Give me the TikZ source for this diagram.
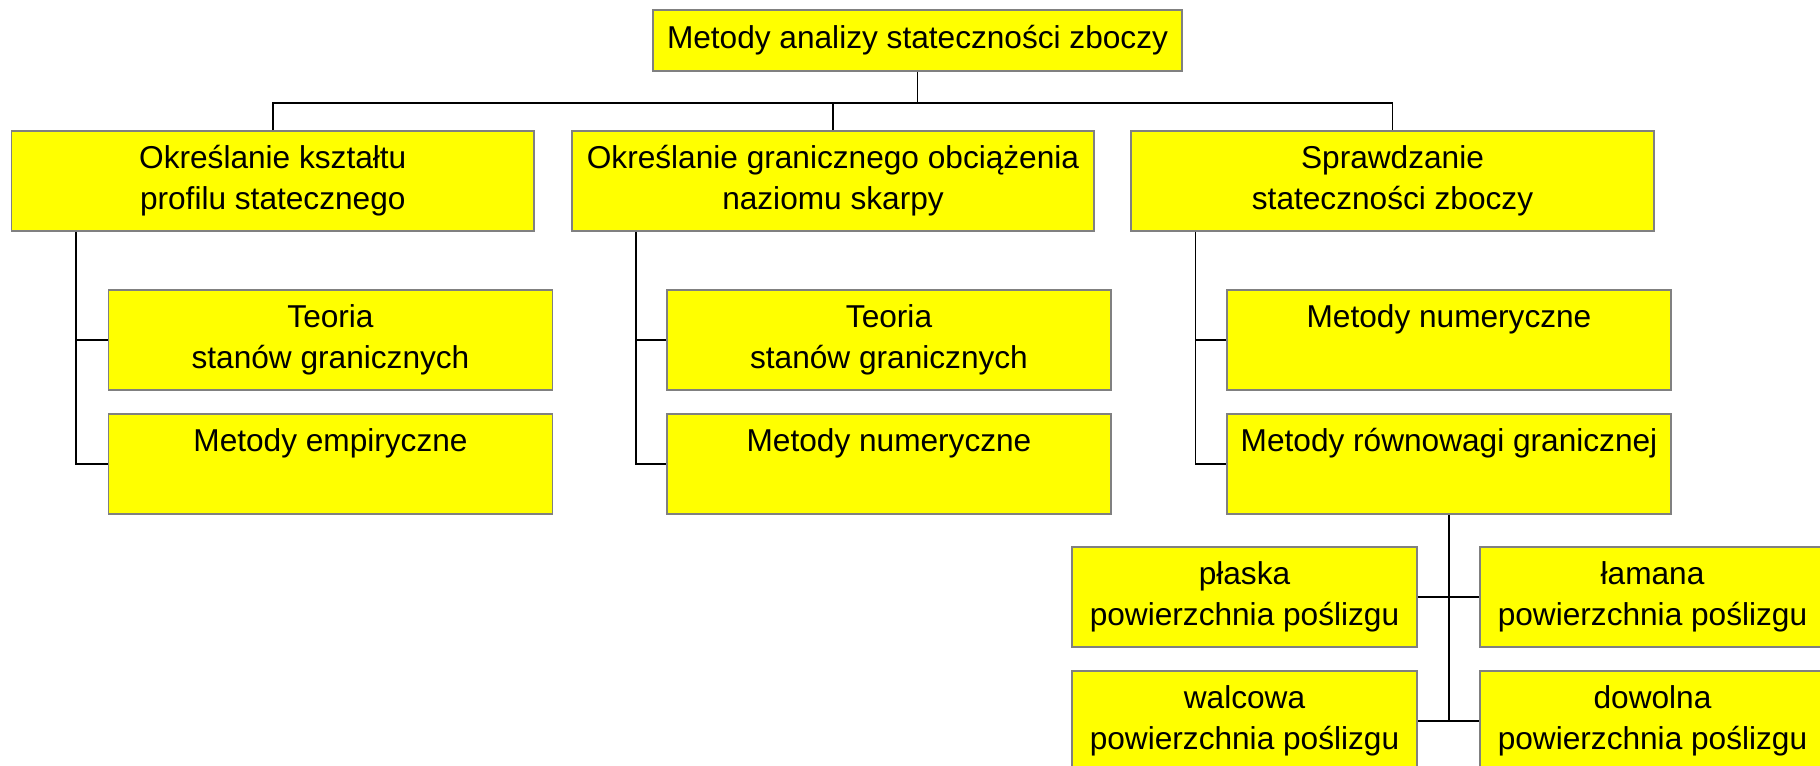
\documentclass[tikz,border=0pt]{standalone}
\usepackage{fontspec}
\setmainfont{Liberation Sans}
\usepackage{tikz}
\usetikzlibrary{calc}

\definecolor{boxfill}{RGB}{255,255,0}
\definecolor{boxline}{RGB}{128,128,128}
\newcommand{\twolines}[2]{#1\strut\\#2\strut}

\tikzset{
  box/.style={draw=boxline, fill=boxfill, line width=1pt, inner sep=0pt, align=center,
    font=\fontsize{18}{23.5}\selectfont},
  wide/.style={box, minimum width=10.45cm, minimum height=2cm},
  mid/.style={box, minimum width=8.88cm, minimum height=2cm},
  small/.style={box, minimum width=6.9cm, minimum height=2cm},
  link/.style={line width=1pt, black}
}

\begin{document}
\begin{tikzpicture}[x=0.02cm, y=-0.02cm]
\useasboundingbox (0,0) rectangle (1820,766);
\clip (0,0) rectangle (1820,766);
\node[box, minimum width=10.58cm, minimum height=1.22cm] (top) at (917.5,40.5) {Metody analizy stateczności zboczy};
\node[wide] (ksztalt) at (272.75,181) {\twolines{Określanie kształtu}{profilu statecznego}};
\node[wide] (obciaz) at (833,181) {\twolines{Określanie granicznego obciążenia}{naziomu skarpy}};
\node[wide] (sprawdz) at (1392.5,181) {\twolines{Sprawdzanie}{stateczności zboczy}};
\node[mid] (teoriaA) at (330.5,340) {\twolines{Teoria}{stanów granicznych}};
\node[mid] (empir) at (330.5,464) {\twolines{Metody empiryczne}{}};
\node[mid] (teoriaB) at (889,340) {\twolines{Teoria}{stanów granicznych}};
\node[mid] (numB) at (889,464) {\twolines{Metody numeryczne}{}};
\node[mid] (numC) at (1449,340) {\twolines{Metody numeryczne}{}};
\node[mid] (rown) at (1449,464) {\twolines{Metody równowagi granicznej}{}};
\node[small] (plaska) at (1244.5,597) {\twolines{płaska}{powierzchnia poślizgu}};
\node[small] (lamana) at (1652.5,597) {\twolines{łamana}{powierzchnia poślizgu}};
\node[small] (walcowa) at (1244.5,721) {\twolines{walcowa}{powierzchnia poślizgu}};
\node[small] (dowolna) at (1652.5,721) {\twolines{dowolna}{powierzchnia poślizgu}};

\coordinate (bus) at (917.5,103);
\draw[link] (top) -- (bus);
\draw[link] (ksztalt.north) |- (bus) -| (sprawdz.north);
\draw[link] (obciaz.north) -- (obciaz.north |- bus);

\coordinate (trA) at ([xshift=1.3cm]ksztalt.south west);
\coordinate (trB) at ([xshift=1.3cm]obciaz.south west);
\coordinate (trC) at ([xshift=1.3cm]sprawdz.south west);
\draw[link] (trA) |- (teoriaA.west);
\draw[link] (trA) |- (empir.west);
\draw[link] (trB) |- (teoriaB.west);
\draw[link] (trB) |- (numB.west);
\draw[link] (trC) |- (numC.west);
\draw[link] (trC) |- (rown.west);

\draw[link] (rown.south) -- (rown.south |- walcowa.east);
\draw[link] (plaska.east) -- (lamana.west);
\draw[link] (walcowa.east) -- (dowolna.west);
\end{tikzpicture}
\end{document}
